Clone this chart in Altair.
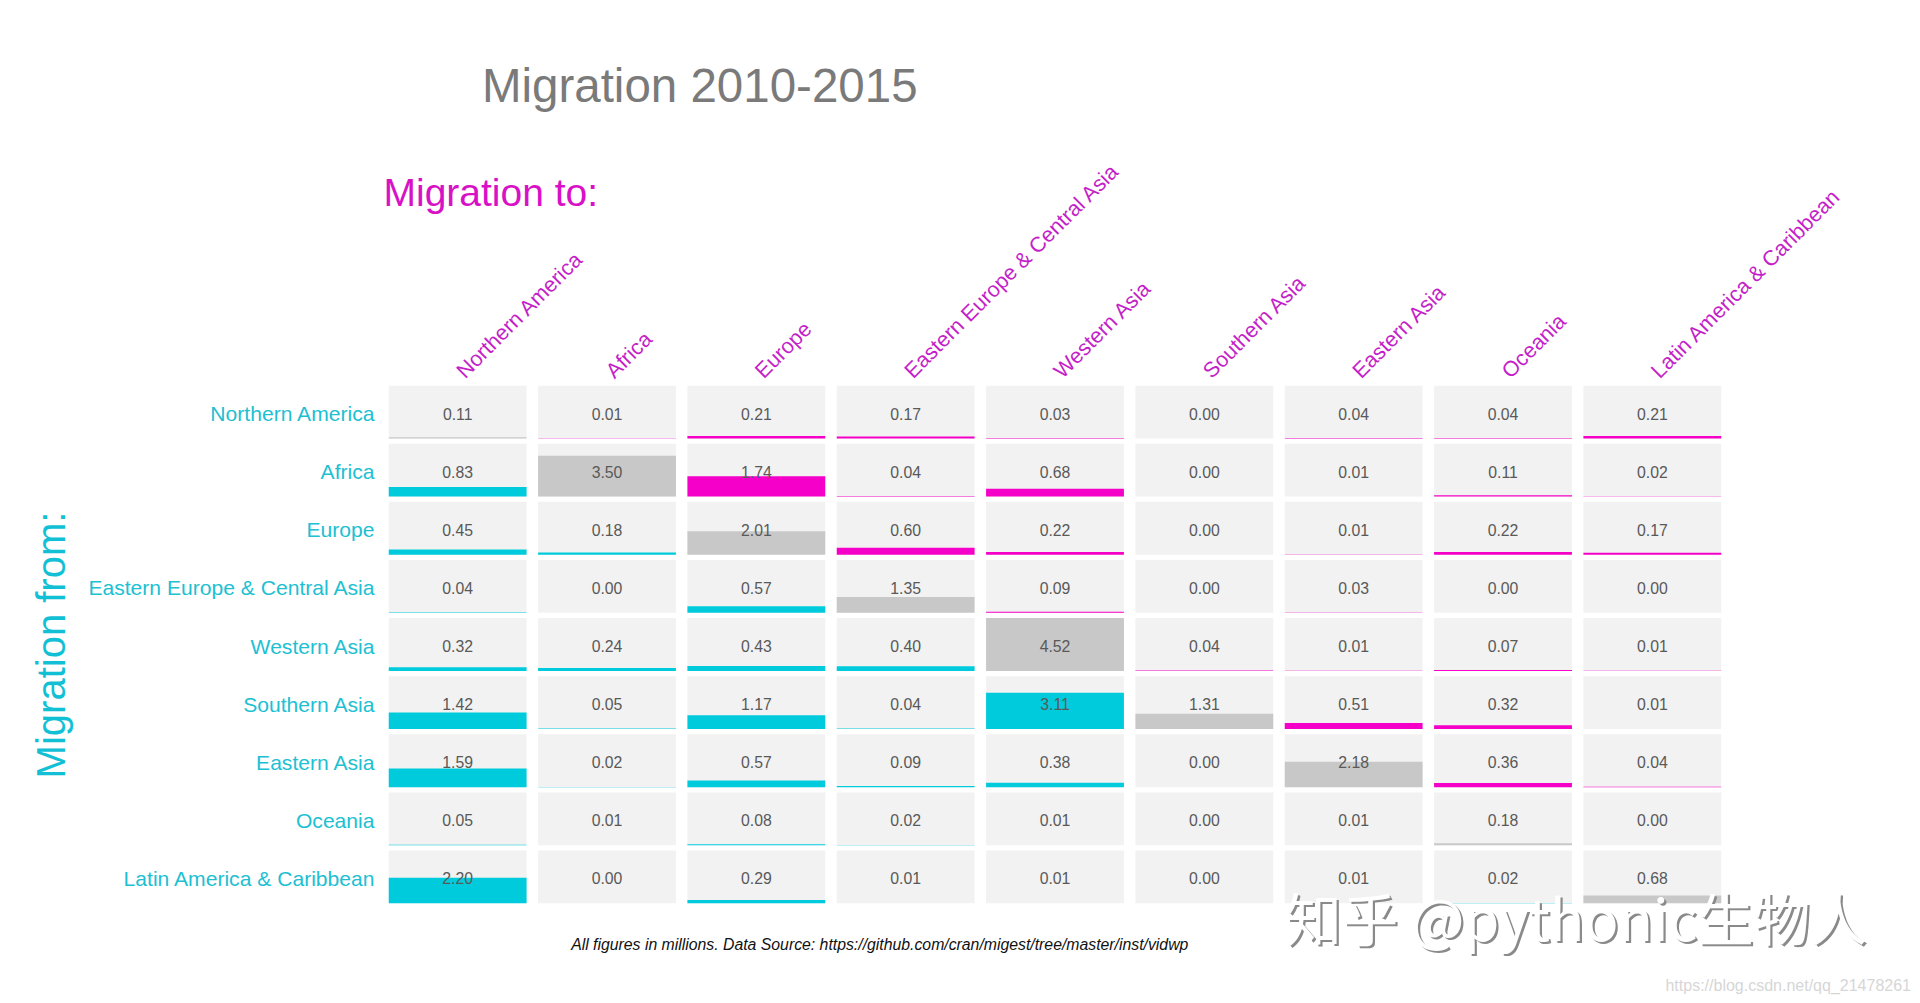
import altair as alt
import pandas as pd

# ---------------- data ----------------
regions = [
    "Northern America", "Africa", "Europe", "Eastern Europe & Central Asia",
    "Western Asia", "Southern Asia", "Eastern Asia", "Oceania",
    "Latin America & Caribbean",
]

# migration flows (millions), one list per origin region, columns = destination
from_northern_america = [0.11, 0.01, 0.21, 0.17, 0.03, 0.00, 0.04, 0.04, 0.21]
from_africa           = [0.83, 3.50, 1.74, 0.04, 0.68, 0.00, 0.01, 0.11, 0.02]
from_europe           = [0.45, 0.18, 2.01, 0.60, 0.22, 0.00, 0.01, 0.22, 0.17]
from_eastern_europe   = [0.04, 0.00, 0.57, 1.35, 0.09, 0.00, 0.03, 0.00, 0.00]
from_western_asia     = [0.32, 0.24, 0.43, 0.40, 4.52, 0.04, 0.01, 0.07, 0.01]
from_southern_asia    = [1.42, 0.05, 1.17, 0.04, 3.11, 1.31, 0.51, 0.32, 0.01]
from_eastern_asia     = [1.59, 0.02, 0.57, 0.09, 0.38, 0.00, 2.18, 0.36, 0.04]
from_oceania          = [0.05, 0.01, 0.08, 0.02, 0.01, 0.00, 0.01, 0.18, 0.00]
from_latin_america    = [2.20, 0.00, 0.29, 0.01, 0.01, 0.00, 0.01, 0.02, 0.68]

flows = [from_northern_america, from_africa, from_europe, from_eastern_europe,
         from_western_asia, from_southern_asia, from_eastern_asia, from_oceania,
         from_latin_america]

title_text = "Migration 2010-2015"
to_title = "Migration to:"
from_title = "Migration from:"
footnote = "All figures in millions. Data Source: https://github.com/cran/migest/tree/master/inst/vidwp"
watermark = "知乎 @pythonic生物人"
csdn = "https://blog.csdn.net/qq_21478261"

# ---------------- table ----------------
records = []
for r, row in enumerate(flows):
    for c, v in enumerate(row):
        kind = "diag" if r == c else ("below" if c < r else "above")
        records.append({"r": r, "c": c, "value": v, "kind": kind})
df = pd.DataFrame(records)

n = len(regions)
vmax = max(max(row) for row in flows)
GX = 0.077   # gap between columns (fraction of column pitch)
GY = 0.091   # gap between rows (fraction of row pitch)

CYAN = "#00cbdc"
MAGENTA = "#f500c8"
GRAY = "#c8c8c8"
CELL = "#f2f2f2"
FONT = "Liberation Sans"

W, H = 1344, 523

base = alt.Chart(df).transform_calculate(
    x0=f"datum.c + {GX/2}",
    x1=f"datum.c + 1 - {GX/2}",
    xc="datum.c + 0.5",
    yb=f"{n} - 1 - datum.r + {GY/2}",
    yt=f"{n} - datum.r - {GY/2}",
    yc=f"{n} - datum.r - 0.5",
    ybar=f"{n} - 1 - datum.r + {GY/2} + (1 - {GY}) * datum.value / {vmax}",
)

xscale = alt.Scale(domain=[0, n], nice=False, zero=False)
yscale = alt.Scale(domain=[0, n], nice=False, zero=False)

col_names = "[" + ",".join("'" + s + "'" for s in regions) + "]"
tick_vals = [i + 0.5 for i in range(n)]

x_axis = alt.Axis(
    orient="top", values=tick_vals,
    labelExpr=f"{col_names}[floor(datum.value)]",
    labelAngle=315, labelAlign="left", labelBaseline="alphabetic",
    labelPadding=4, labelOffset=7, labelFontSize=21.5, labelColor="#c41fc8",
    labelFont=FONT,
    labelLimit=800, labelOverlap=False, labelBound=False, labelFlush=False,
    ticks=False, domain=False, grid=False,
    title=to_title, titleX=0, titleY=-178, titleAlign="left",
    titleBaseline="alphabetic", titleAngle=0, titleFontSize=39,
    titleFontWeight="normal", titleColor="#d911c6", titleFont=FONT,
)
y_axis = alt.Axis(
    orient="left", values=tick_vals,
    labelExpr=f"{col_names}[{n - 1} - floor(datum.value)]",
    labelAlign="right", labelBaseline="middle", labelPadding=9,
    labelOffset=2.5,
    labelFontSize=21.1, labelColor="#20bfd2", labelFont=FONT,
    labelLimit=800, labelOverlap=False, labelBound=False, labelFlush=False,
    ticks=False, domain=False, grid=False,
    title=from_title, titleAngle=270, titleX=-319, titleY=H / 2,
    titleAlign="center", titleBaseline="alphabetic", titleFontSize=40,
    titleFontWeight="normal", titleColor="#12c0d6", titleFont=FONT,
)

cells = base.mark_rect(color=CELL).encode(
    x=alt.X("x0:Q", scale=xscale, axis=x_axis),
    x2="x1:Q",
    y=alt.Y("yb:Q", scale=yscale, axis=y_axis),
    y2="yt:Q",
)

bars = base.mark_rect().encode(
    x=alt.X("x0:Q", scale=xscale, axis=x_axis),
    x2="x1:Q",
    y=alt.Y("yb:Q", scale=yscale, axis=y_axis),
    y2="ybar:Q",
    color=alt.Color("kind:N", scale=alt.Scale(domain=["below", "above", "diag"],
                                              range=[CYAN, MAGENTA, GRAY]),
                    legend=None),
)

labels = base.mark_text(font=FONT, fontSize=15.8, color="#595959",
                        baseline="middle", align="center", dy=2.5).encode(
    x=alt.X("xc:Q", scale=xscale, axis=x_axis),
    y=alt.Y("yc:Q", scale=yscale, axis=y_axis),
    text=alt.Text("value:Q", format=".2f"),
)

def annotation(txt, x, y, **kw):
    return alt.Chart(pd.DataFrame({"t": [txt]})).mark_text(**kw).encode(
        x=alt.value(x), y=alt.value(y), text="t:N")

main_title = annotation(title_text, 316.75, -281.35, font=FONT, fontSize=47.5,
                        color="#7a7a7a", align="center", baseline="alphabetic")
foot = annotation(footnote, 496.75, 566.65, font=FONT, fontSize=15.8,
                  fontStyle="italic", color="#111111", align="center",
                  baseline="alphabetic")
wm_shadow = annotation(watermark, 904.5, 559.9, font="Noto Sans CJK SC",
                       fontSize=56.5, color="#8a8a8a", align="left",
                       baseline="alphabetic")
wm = annotation(watermark, 902.25, 557.65, font="Noto Sans CJK SC",
                fontSize=56.5, color="#ffffff", align="left",
                baseline="alphabetic")
csdn_mark = annotation(csdn, 1528, 607.6, font=FONT, fontSize=16,
                       color="#d6d6d6", align="right", baseline="alphabetic")

chart = alt.layer(
    cells, bars, labels, main_title, foot, wm_shadow, wm, csdn_mark
).properties(
    width=W, height=H,
    autosize=alt.AutoSizeParams(type="none"),
    padding={"left": 375, "top": 375, "right": 185, "bottom": 92},
    background="white",
).configure_view(stroke=None)

chart.save("out.html", embed_options={"renderer": "svg", "actions": False})
